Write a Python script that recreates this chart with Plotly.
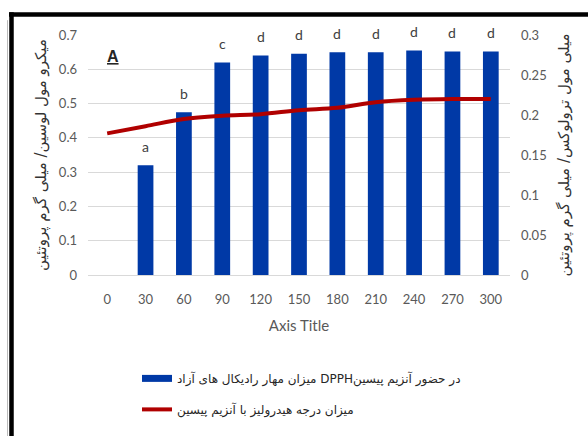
import plotly.graph_objects as go

# Time points (min)
times = ["0", "30", "60", "90", "120", "150", "180", "210", "240", "270", "300"]

# DPPH radical scavenging with pepsin (left axis)
dpph = [None, 0.32, 0.475, 0.62, 0.64, 0.645, 0.65, 0.65, 0.655, 0.652, 0.652]
# Significance letters above the bars
letters = ["", "a", "b", "c", "d", "d", "d", "d", "d", "d", "d"]

# Degree of hydrolysis with pepsin (right axis)
hydrolysis = [0.177, 0.186, 0.195, 0.199, 0.201, 0.206, 0.209, 0.216, 0.219, 0.220, 0.220]

bar_name = "میزان مهار رادیکال های آزاد DPPHدر حضور آنزیم پیسین"
line_name = "میزان درجه هیدرولیز با آنزیم پیسین"
left_title = "میکرو مول لوسین/ میلی گرم پروتئین"
right_title = "میلی مول ترولوکس/ میلی گرم پروتئین"

BLUE = "#0039A6"
RED = "#B00000"
GRID = "#D9D9D9"
TICK = "#595959"
TICK_FONT = dict(family="Lato, Open Sans, sans-serif", size=13, color=TICK)

fig = go.Figure()

fig.add_trace(go.Bar(
    x=times, y=dpph, marker=dict(color=BLUE, line=dict(width=0)),
    name=bar_name, showlegend=False, yaxis="y",
))
fig.add_trace(go.Scatter(
    x=times, y=hydrolysis, mode="lines", line=dict(color=RED, width=4, shape="spline"),
    name=line_name, showlegend=False, yaxis="y2",
))

# Legend entries
fig.add_trace(go.Scatter(
    x=[None], y=[None], mode="lines", line=dict(color=BLUE, width=7),
    name=bar_name, legendgroup="g1", yaxis="y",
))
fig.add_trace(go.Scatter(
    x=[None], y=[None], mode="lines", line=dict(color=RED, width=4),
    name=line_name, legendgroup="g2", yaxis="y2",
))

# Letters over bars (category index as position)
for i, (v, l) in enumerate(zip(dpph, letters)):
    if v is None or not l:
        continue
    fig.add_annotation(x=i, y=v, text=l, showarrow=False, yshift=19,
                       font=dict(family="Lato, Open Sans, sans-serif", size=14, color="#404040"),
                       xref="x", yref="y")

fig.add_annotation(x=0.06, y=0.955, xref="paper", yref="paper", text="<b><u>A</u></b>",
                   showarrow=False, xanchor="center",
                   font=dict(family="Liberation Sans, Arial", size=16, color="#262626"))

# Frame lines (top and left)
L, T, PW, PH = 88, 35, 422, 243
def px(x):
    return (x - L) / PW
def py(y):
    return (T + PH - y) / PH

fig.add_shape(type="line", xref="paper", yref="paper", x0=px(9), x1=px(600),
              y0=py(14.3), y1=py(14.3), line=dict(color="black", width=4.5))
fig.add_shape(type="line", xref="paper", yref="paper", x0=px(11.5), x1=px(11.5),
              y0=py(12), y1=py(450), line=dict(color="black", width=4.5))
fig.add_shape(type="line", xref="paper", yref="paper", x0=px(7.5), x1=px(7.5),
              y0=py(20), y1=py(450), line=dict(color="#BBBBBB", width=1))

TITLE_FONT = dict(family="DejaVu Sans", size=15, color="#333333")

fig.update_layout(
    width=588, height=436,
    margin=dict(l=L, r=588 - L - PW, t=T, b=436 - T - PH),
    paper_bgcolor="white", plot_bgcolor="white",
    bargap=0.59,
    xaxis=dict(type="category", tickfont=TICK_FONT, showgrid=False,
               showline=True, linecolor=GRID, linewidth=1, ticks="",
               ticklabelstandoff=12,
               title=dict(text="Axis Title", font=dict(family="Lato, Open Sans, sans-serif", size=15, color=TICK), standoff=14),
               range=[-0.5, 10.5]),
    yaxis=dict(range=[0, 0.7], dtick=0.1, tickformat="~g", tickfont=TICK_FONT,
               showgrid=True, gridcolor=GRID, gridwidth=1, zeroline=False,
               ticks="", ticklabelstandoff=10,
               title=dict(text=left_title, font=TITLE_FONT, standoff=8)),
    yaxis2=dict(range=[0, 0.3], dtick=0.05, tickformat="~g", tickfont=TICK_FONT,
                overlaying="y", side="right", showgrid=False, zeroline=False,
                ticks="", ticklabelstandoff=10,
                title=dict(text=right_title, font=TITLE_FONT, standoff=12)),
    legend=dict(x=px(137), y=py(368), xanchor="left", yanchor="top",
                bgcolor="rgba(0,0,0,0)", borderwidth=0, tracegroupgap=12,
                font=dict(family="DejaVu Sans", size=12, color="#262626")),
)

fig.write_html("out.html")
